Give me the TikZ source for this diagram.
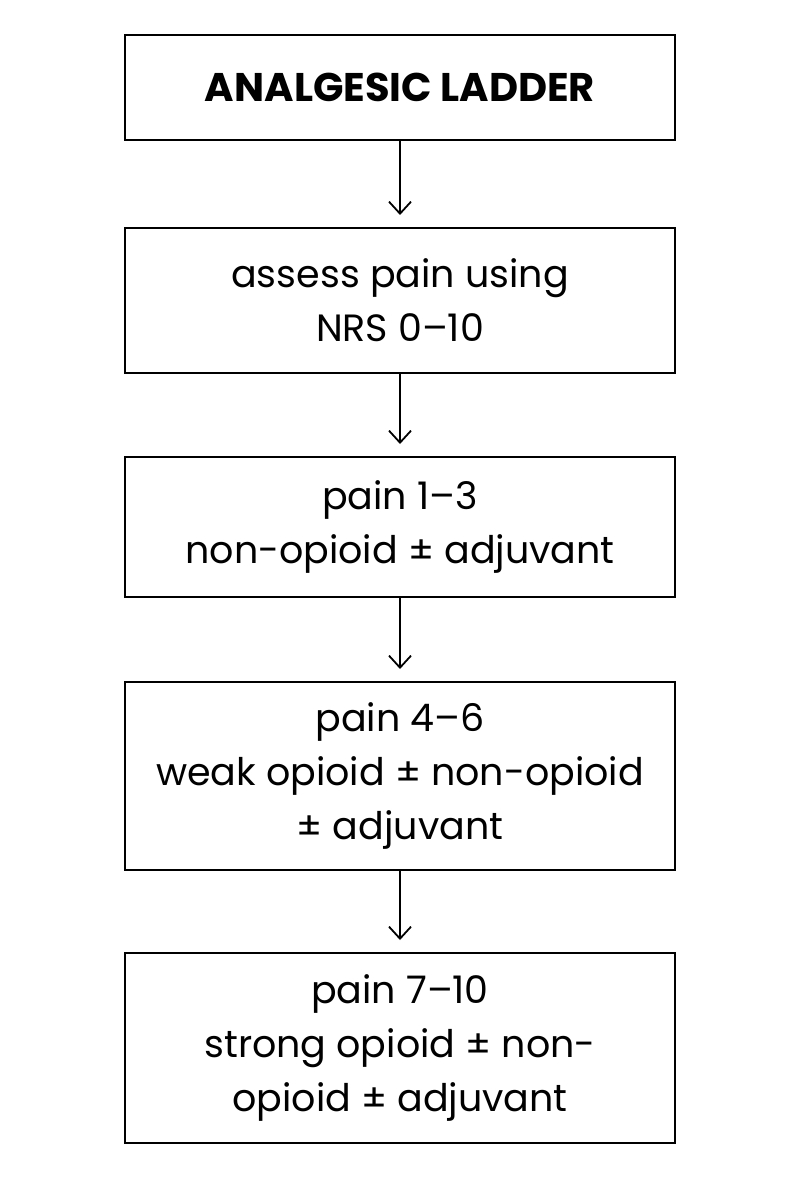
\documentclass[tikz,border=0pt]{standalone}
\usepackage{fontspec}
\setmainfont{Poppins}
\usetikzlibrary{arrows.meta}
\begin{document}
\begin{tikzpicture}[x=1pt,y=-1pt,
  stepbox/.style={draw,line width=2pt,minimum width=550pt,align=center,inner sep=0pt,font=\fontsize{38}{54}\selectfont},
  conn/.style={line width=1.8pt,-{Straight Barb[length=12pt,width=22pt,line width=1.8pt]}}]
\useasboundingbox[fill=white] (0,0) rectangle (800,1198);
\node[stepbox,minimum height=105pt,font=\fontsize{40}{54}\selectfont\bfseries] (a) at (400,87.5) {ANALGESIC LADDER};
\node[stepbox,minimum height=145pt] (b) at (400,300.5) {assess pain using\\NRS 0–10};
\node[stepbox,minimum height=140pt] (c) at (400,527) {pain 1–3\\non-opioid ± adjuvant};
\node[stepbox,minimum height=188pt] (d) at (400,776) {pain 4–6\\weak opioid ± non-opioid\\± adjuvant};
\node[stepbox,minimum height=190pt] (e) at (400,1048) {pain 7–10\\strong opioid ± non-\\opioid ± adjuvant};
\draw[conn] (a.south) -- ([yshift=12pt]b.north);
\draw[conn] (b.south) -- ([yshift=12pt]c.north);
\draw[conn] (c.south) -- ([yshift=12pt]d.north);
\draw[conn] (d.south) -- ([yshift=12pt]e.north);
\end{tikzpicture}
\end{document}
